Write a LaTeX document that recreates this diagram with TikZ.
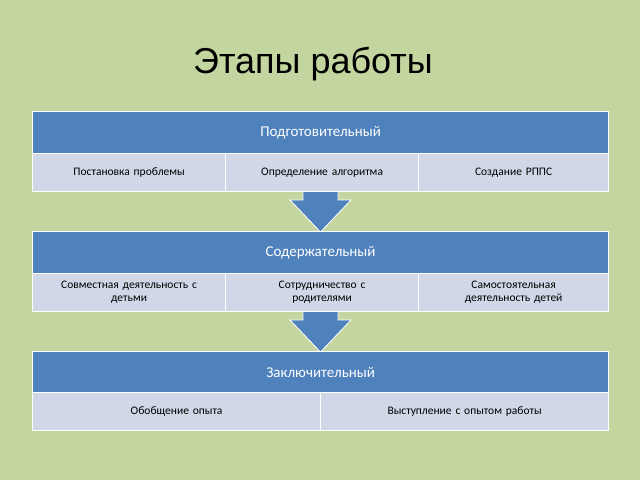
\documentclass[tikz,border=0pt]{standalone}
\usepackage{fontspec}
\setmainfont{Carlito}
\newfontfamily\titlefont{Liberation Sans}
\definecolor{bg}{RGB}{196,214,160}
\definecolor{hdr}{RGB}{79,129,189}
\definecolor{sub}{RGB}{208,216,232}
\begin{document}
\begin{tikzpicture}[x=1pt,y=-1pt,
  hbox/.style={draw=white,line width=1.2pt,fill=hdr,text=white,font=\fontsize{15}{17}\selectfont,anchor=north west,inner sep=0pt,align=center},
  sbox/.style={draw=white,line width=1.2pt,fill=sub,text=black,font=\fontsize{11.5}{13}\selectfont,anchor=north west,inner sep=0pt,align=center,text width=#1-4pt,minimum width=#1,minimum height=38pt},
  darrow/.style={fill=hdr,draw=white,line width=0.8pt}]
\fill[bg] (0,0) rectangle (640,480);
\useasboundingbox (0,0) rectangle (640,480);
\node[font=\titlefont\fontsize{36}{40}\selectfont] (title) at (313,64) {Этапы работы};
% arrows
\draw[darrow] (303,189) -- (338,189) -- (338,200) -- (351,200) -- (320.5,232) -- (290,200) -- (303,200) -- cycle;
\draw[darrow] (303,309) -- (338,309) -- (338,320) -- (351,320) -- (320.5,352) -- (290,320) -- (303,320) -- cycle;
% box 1
\node[hbox,minimum width=576pt,minimum height=42pt] (h1) at (32,111) {Подготовительный};
\node[sbox=193pt] (s11) at (32,153) {Постановка проблемы};
\node[sbox=193pt] (s12) at (225,153) {Определение алгоритма};
\node[sbox=190pt] (s13) at (418,153) {Создание РППС};
% box 2
\node[hbox,minimum width=576pt,minimum height=42pt] (h2) at (32,231) {Содержательный};
\node[sbox=193pt] (s21) at (32,273) {Совместная деятельность с\\детьми};
\node[sbox=193pt] (s22) at (225,273) {Сотрудничество с\\родителями};
\node[sbox=190pt] (s23) at (418,273) {Самостоятельная\\деятельность детей};
% box 3
\node[hbox,minimum width=576pt,minimum height=41pt] (h3) at (32,351) {Заключительный};
\node[sbox=288pt] (s31) at (32,392) {Обобщение опыта};
\node[sbox=288pt] (s32) at (320,392) {Выступление с опытом работы};
\end{tikzpicture}
\end{document}
